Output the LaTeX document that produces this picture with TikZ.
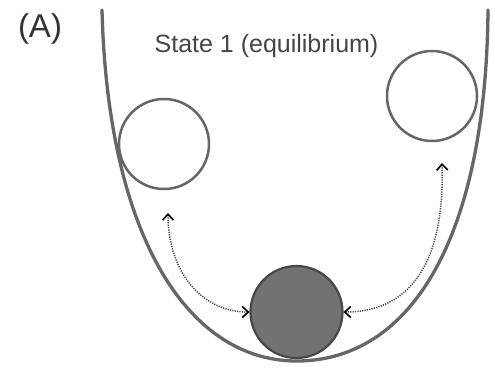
\documentclass[tikz,border=0pt]{standalone}
\usepackage{fontspec}
\setmainfont{Liberation Sans}
\usetikzlibrary{arrows.meta}
\definecolor{wellgray}{HTML}{666666}
\definecolor{ballfill}{HTML}{727272}
\definecolor{ballline}{HTML}{474747}
\definecolor{txtgray}{HTML}{454545}
\begin{document}
\begin{tikzpicture}[x=1bp,y=-1bp,
  well/.style={draw=wellgray,line width=3.3bp,line cap=round},
  emptyball/.style={circle,draw=wellgray,line width=2.5bp,minimum size=90bp,inner sep=0pt},
  fullball/.style={circle,draw=ballline,fill=ballfill,line width=2.2bp,minimum size=92bp,inner sep=0pt},
  dotarr/.style={draw=black!72,line width=1.5bp,dash pattern=on 1.2bp off 1.2bp,
    {Straight Barb[length=6bp,width=11bp,line width=1.6bp,black]}-{Straight Barb[length=6bp,width=11bp,line width=1.6bp,black]}},
  lbl/.style={anchor=base,inner sep=0pt}]
\useasboundingbox (0,0) rectangle (495,368);
\fill[white] (0,0) rectangle (495,368);
% potential well
\draw[well] (102,10) .. controls (108,240) and (190,362) .. (298,361)
            .. controls (410,360) and (486,240) .. (488,10);
% balls
\node[emptyball] (L) at (164,144) {};
\node[emptyball] (R) at (432,96) {};
\node[fullball] (B) at (296.5,312) {};
% arrow ends
\coordinate (la) at (168,213);
\coordinate (ra) at (442,163);
\draw[dotarr] (la) .. controls (168,272) and (202,312) .. (B.west);
\draw[dotarr] (ra) .. controls (445,270) and (405,312) .. (B.east);
% labels
\node[lbl,text=black!80] (tA) at (40,37) {\fontsize{33bp}{38bp}\selectfont (A)};
\node[lbl,text=txtgray] (t1) at (266.5,52) {\fontsize{25bp}{30bp}\selectfont State 1 (equilibrium)};
\end{tikzpicture}
\end{document}
